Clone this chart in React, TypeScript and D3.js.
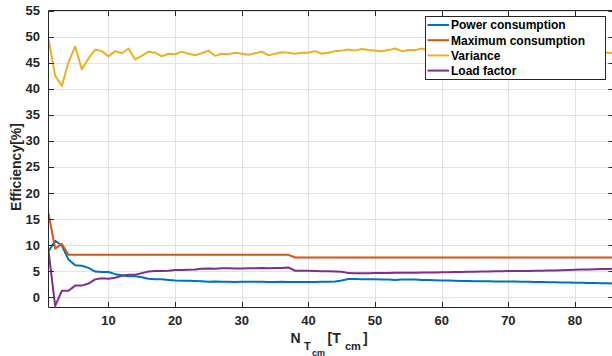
import { useRef, useEffect } from 'react';
import * as d3 from 'd3';

// values read per integer N (1..86)
const powerConsumption = [
    8.8, 10.8, 9.9, 7.2, 6.1, 6.0, 5.6, 4.9, 4.8, 4.8,
    4.4, 4.2, 4.0, 4.0, 3.8, 3.5, 3.4, 3.4, 3.3, 3.2,
    3.15, 3.15, 3.1, 3.05, 2.95, 3.0, 2.95, 2.95, 2.9, 2.95,
    2.95, 2.95, 2.95, 2.9, 2.9, 2.95, 2.9, 2.9, 2.9, 2.9,
    2.9, 2.95, 2.95, 3.0, 3.2, 3.45, 3.45, 3.4, 3.4, 3.4,
    3.35, 3.35, 3.3, 3.35, 3.35, 3.35, 3.3, 3.3, 3.25, 3.2,
    3.2, 3.15, 3.1, 3.1, 3.05, 3.05, 3.05, 3.0, 3.0, 3.0,
    3.0, 2.95, 2.95, 2.9, 2.9, 2.85, 2.85, 2.8, 2.8, 2.75,
    2.75, 2.7, 2.7, 2.65, 2.65, 2.6,
];

const maxConsumption = [
    16.1, 9.3, 10.2, 8.1, 8.1, 8.1, 8.1, 8.1, 8.1, 8.1,
    8.1, 8.1, 8.1, 8.1, 8.1, 8.1, 8.1, 8.1, 8.1, 8.1,
    8.1, 8.1, 8.1, 8.1, 8.1, 8.1, 8.1, 8.1, 8.1, 8.1,
    8.1, 8.1, 8.1, 8.1, 8.1, 8.1, 8.1, 7.6, 7.6, 7.6,
    7.6, 7.6, 7.6, 7.6, 7.6, 7.6, 7.6, 7.6, 7.6, 7.6,
    7.6, 7.6, 7.6, 7.6, 7.6, 7.6, 7.6, 7.6, 7.6, 7.6,
    7.6, 7.6, 7.6, 7.6, 7.6, 7.6, 7.6, 7.6, 7.6, 7.6,
    7.6, 7.6, 7.6, 7.6, 7.6, 7.6, 7.6, 7.6, 7.6, 7.6,
    7.6, 7.6, 7.6, 7.6, 7.6, 7.6,
];

const variance = [
    49.5, 42.5, 40.5, 45.1, 48.1, 43.7, 45.8, 47.5, 47.2, 46.2,
    47.2, 46.8, 47.7, 45.6, 46.3, 47.1, 46.9, 46.2, 46.7, 46.6,
    47.1, 46.7, 46.4, 46.8, 47.3, 46.3, 46.7, 46.6, 46.9, 46.7,
    46.5, 46.8, 47.1, 46.4, 46.7, 47.0, 46.9, 46.7, 46.9, 46.9,
    47.2, 46.7, 46.9, 47.2, 47.3, 47.5, 47.3, 47.6, 47.4, 47.3,
    47.2, 47.4, 47.7, 47.2, 47.4, 47.4, 47.7, 47.3, 47.5, 47.2,
    47.4, 47.6, 47.3, 47.2, 47.5, 47.4, 47.1, 47.3, 47.5, 47.2,
    47.4, 47.3, 47.0, 47.2, 47.4, 47.1, 47.3, 47.2, 47.0, 47.1,
    47.3, 47.0, 47.1, 46.9, 46.9, 46.8,
];

const loadFactor = [
    8.8, -1.7, 1.2, 1.2, 2.2, 2.2, 2.6, 3.4, 3.6, 3.5,
    3.7, 4.1, 4.3, 4.3, 4.6, 4.9, 5.0, 5.0, 5.05, 5.2,
    5.2, 5.25, 5.3, 5.45, 5.5, 5.45, 5.55, 5.55, 5.5, 5.5,
    5.55, 5.55, 5.6, 5.55, 5.6, 5.6, 5.7, 5.05, 5.05, 5.05,
    5.0, 4.95, 4.95, 4.9, 4.85, 4.6, 4.55, 4.55, 4.55, 4.6,
    4.6, 4.6, 4.65, 4.65, 4.65, 4.65, 4.7, 4.7, 4.7, 4.75,
    4.75, 4.8, 4.8, 4.85, 4.85, 4.9, 4.9, 4.95, 4.95, 5.0,
    5.0, 5.0, 5.0, 5.05, 5.05, 5.1, 5.1, 5.15, 5.2, 5.25,
    5.3, 5.3, 5.35, 5.4, 5.4, 5.45,
];

const seriesNames = ['Power consumption', 'Maximum consumption', 'Variance', 'Load factor'];
const seriesColors = ['#0072BD', '#D95319', '#EDB120', '#7E2F8E'];
const xTicks = [10, 20, 30, 40, 50, 60, 70, 80];
const yTicks = [0, 5, 10, 15, 20, 25, 30, 35, 40, 45, 50, 55];

const FONT = '"Liberation Sans", Arial, Helvetica, sans-serif';
const AXIS_COLOR = '#262626';

export default function App() {
    const ref = useRef<SVGSVGElement>(null);

    useEffect(() => {
        if (!ref.current) return;
        const svg = d3.select(ref.current);
        svg.selectAll('*').remove();

        const left = 48.5, right = 615, top = 10.5, bottom = 307.5;

        const xScale = d3.scaleLinear().domain([1, 86]).range([left, right]);
        const yScale = d3.scaleLinear().domain([-2, 55]).range([bottom, top]);

        svg.append('rect').attr('width', 612).attr('height', 356).attr('fill', 'white');

        // grid
        const grid = svg.append('g').attr('stroke', '#e3e3e3').attr('stroke-width', 1);
        xTicks.forEach(t => {
            const x = Math.round(xScale(t)) + 0.5;
            grid.append('line').attr('x1', x).attr('x2', x).attr('y1', top).attr('y2', bottom);
        });
        yTicks.forEach(t => {
            const y = Math.round(yScale(t)) + 0.5;
            grid.append('line').attr('x1', left).attr('x2', right).attr('y1', y).attr('y2', y);
        });

        // data lines
        svg.append('clipPath').attr('id', 'plot-clip')
            .append('rect').attr('x', left).attr('y', top)
            .attr('width', right - left).attr('height', bottom - top);

        const line = d3.line<number>()
            .x((_, i) => xScale(i + 1))
            .y(d => yScale(d));

        const lines = svg.append('g').attr('clip-path', 'url(#plot-clip)');
        [powerConsumption, maxConsumption, variance, loadFactor].forEach((s, i) => {
            lines.append('path')
                .datum(s)
                .attr('d', line)
                .attr('fill', 'none')
                .attr('stroke', seriesColors[i])
                .attr('stroke-width', 2)
                .attr('stroke-linejoin', 'round');
        });

        // frame + ticks
        const axis = svg.append('g').attr('stroke', AXIS_COLOR).attr('stroke-width', 1).attr('fill', 'none');
        axis.append('line').attr('x1', left).attr('x2', left).attr('y1', top).attr('y2', bottom);
        axis.append('line').attr('x1', left).attr('x2', right).attr('y1', bottom).attr('y2', bottom);
        axis.append('line').attr('x1', left).attr('x2', right).attr('y1', top).attr('y2', top);
        axis.append('line').attr('x1', right - 0.5).attr('x2', right - 0.5).attr('y1', top).attr('y2', bottom);
        const tickLen = 5.5;
        xTicks.forEach(t => {
            const x = Math.round(xScale(t)) + 0.5;
            axis.append('line').attr('x1', x).attr('x2', x).attr('y1', bottom).attr('y2', bottom - tickLen);
            axis.append('line').attr('x1', x).attr('x2', x).attr('y1', top).attr('y2', top + tickLen);
        });
        yTicks.forEach(t => {
            const y = Math.round(yScale(t)) + 0.5;
            axis.append('line').attr('x1', left).attr('x2', left + tickLen).attr('y1', y).attr('y2', y);
            axis.append('line').attr('x1', right).attr('x2', right - tickLen - 1).attr('y1', y).attr('y2', y);
        });

        // tick labels
        const labels = svg.append('g')
            .attr('font-family', FONT).attr('font-weight', 'bold')
            .attr('font-size', 13).attr('fill', AXIS_COLOR);
        xTicks.forEach(t => {
            labels.append('text').attr('x', xScale(t)).attr('y', 325)
                .attr('text-anchor', 'middle').text(t);
        });
        yTicks.forEach(t => {
            labels.append('text').attr('x', 40).attr('y', yScale(t))
                .attr('dy', '0.36em').attr('text-anchor', 'end').text(t);
        });

        // axis titles
        svg.append('text')
            .attr('transform', 'translate(21, 167) rotate(-90)')
            .attr('text-anchor', 'middle')
            .attr('font-family', FONT).attr('font-weight', 'bold')
            .attr('font-size', 14).attr('fill', AXIS_COLOR)
            .text('Efficiency[%]');

        const xl = svg.append('text')
            .attr('font-family', FONT).attr('font-weight', 'bold').attr('fill', AXIS_COLOR);
        xl.append('tspan').attr('x', 290.5).attr('y', 343).attr('font-size', 14).text('N');
        xl.append('tspan').attr('x', 304).attr('y', 350).attr('font-size', 11).text('T');
        xl.append('tspan').attr('x', 312).attr('y', 355.5).attr('font-size', 9).text('cm');
        xl.append('tspan').attr('x', 327.5).attr('y', 343).attr('font-size', 14).text('[T');
        xl.append('tspan').attr('x', 345).attr('y', 350).attr('font-size', 11).text('cm');
        xl.append('tspan').attr('x', 363).attr('y', 343).attr('font-size', 14).text(']');

        // legend
        const lg = svg.append('g');
        lg.append('rect')
            .attr('x', 425.5).attr('y', 16.5).attr('width', 180).attr('height', 63)
            .attr('fill', 'white').attr('stroke', AXIS_COLOR).attr('stroke-width', 1);
        seriesNames.forEach((name, i) => {
            const y = 25 + i * 15.2;
            lg.append('line')
                .attr('x1', 427.5).attr('x2', 449).attr('y1', y).attr('y2', y)
                .attr('stroke', seriesColors[i]).attr('stroke-width', 2);
            lg.append('text')
                .attr('x', 451).attr('y', y).attr('dy', '0.36em')
                .attr('font-family', FONT).attr('font-weight', 'bold')
                .attr('font-size', 12).attr('fill', 'black')
                .text(name);
        });
    }, []);

    return (
        <div style={{ position: 'absolute', left: 0, top: 0 }}>
            <svg ref={ref} width={612} height={356} style={{ display: 'block' }} />
        </div>
    );
}
